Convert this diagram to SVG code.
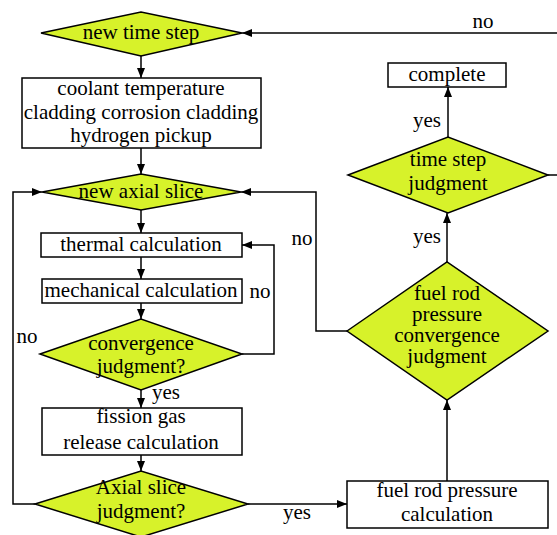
<svg xmlns="http://www.w3.org/2000/svg" width="557" height="535" viewBox="0 0 557 535">
<style>
text{font-family:"Liberation Serif","Times New Roman",serif;font-size:21px;fill:#000;text-anchor:middle}
.d{fill:#d7f22a;stroke:#000;stroke-width:1.5}
.b{fill:#fff;stroke:#000;stroke-width:1.5}
.c{fill:none;stroke:#000;stroke-width:1.5}
</style>
<defs>
<marker id="a" viewBox="0 0 10 10" refX="10" refY="5" markerWidth="10" markerHeight="10" markerUnits="userSpaceOnUse" orient="auto">
<path d="M0,1 L10,5 L0,9 Z" fill="#000"/>
</marker>
</defs>
<rect width="557" height="535" fill="#fff"/>
<g id="connectors">
<path class="c" d="M560,33 H242" marker-end="url(#a)"/>
<path class="c" d="M141,56 V78" marker-end="url(#a)"/>
<path class="c" d="M141,148 V174" marker-end="url(#a)"/>
<path class="c" d="M141,210 V233" marker-end="url(#a)"/>
<path class="c" d="M141,257 V279" marker-end="url(#a)"/>
<path class="c" d="M141,303 V319" marker-end="url(#a)"/>
<path class="c" d="M242,354 H274 V245 H242" marker-end="url(#a)"/>
<path class="c" d="M141,390 V408" marker-end="url(#a)"/>
<path class="c" d="M141,455 V471" marker-end="url(#a)"/>
<path class="c" d="M35,504 H13 V192 H42" marker-end="url(#a)"/>
<path class="c" d="M248,504 H347" marker-end="url(#a)"/>
<path class="c" d="M447,481 V400" marker-end="url(#a)"/>
<path class="c" d="M347,331 H316 V192 H241" marker-end="url(#a)"/>
<path class="c" d="M447,262 V213" marker-end="url(#a)"/>
<path class="c" d="M448,137 V87" marker-end="url(#a)"/>
<path class="c" d="M548,175 H560"/>
<text x="483" y="28">no</text>
<text x="427" y="127">yes</text>
<text x="427" y="243">yes</text>
<text x="302" y="245">no</text>
<text x="260" y="298">no</text>
<text x="27" y="343">no</text>
<text x="166" y="399">yes</text>
<text x="297" y="519">yes</text>
</g>
<g id="new-time-step"><polygon class="d" points="41,33 141,12 242,33 141,56"/><text x="141" y="39">new time step</text></g>
<g id="coolant"><rect class="b" x="22" y="78" width="239" height="70"/><text x="141" y="95">coolant temperature</text><text x="141" y="119">cladding corrosion cladding</text><text x="141" y="142">hydrogen pickup</text></g>
<g id="new-axial-slice"><polygon class="d" points="42,192 141,174 241,192 141,210"/><text x="141" y="198">new axial slice</text></g>
<g id="thermal"><rect class="b" x="41" y="233" width="201" height="24"/><text x="141" y="251">thermal calculation</text></g>
<g id="mechanical"><rect class="b" x="42" y="279" width="200" height="24"/><text x="141" y="297">mechanical calculation</text></g>
<g id="convergence"><polygon class="d" points="40,354 141,319 242,354 141,390"/><text x="141" y="350">convergence</text><text x="141" y="373">judgment?</text></g>
<g id="fission"><rect class="b" x="42" y="408" width="200" height="47"/><text x="141" y="423">fission gas</text><text x="141" y="449">release calculation</text></g>
<g id="axial-judgment"><polygon class="d" points="35,504 141,471 248,504 141,537"/><text x="141" y="494">Axial slice</text><text x="141" y="518">judgment?</text></g>
<g id="fuel-pressure-calc"><rect class="b" x="347" y="481" width="201" height="47"/><text x="447" y="497">fuel rod pressure</text><text x="447" y="521">calculation</text></g>
<g id="fuel-convergence"><polygon class="d" points="347,331 447,262 548,331 447,400"/><text x="447" y="300">fuel rod</text><text x="447" y="321">pressure</text><text x="447" y="342">convergence</text><text x="447" y="363">judgment</text></g>
<g id="time-step-judgment"><polygon class="d" points="348,175 448,137 548,175 448,213"/><text x="448" y="166">time step</text><text x="448" y="190">judgment</text></g>
<g id="complete"><rect class="b" x="388" y="63" width="118" height="24"/><text x="447" y="81">complete</text></g>
</svg>
